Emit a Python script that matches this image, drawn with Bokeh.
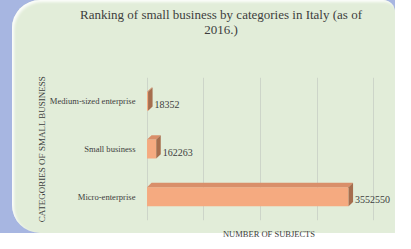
from bokeh.plotting import figure
from bokeh.models import FixedTicker, Div, Spacer, ColumnDataSource, Range1d
from bokeh.layouts import column, row
from bokeh.embed import file_html
from bokeh.resources import INLINE

# ---- data ----
categories = ["Micro-enterprise", "Small business", "Medium-sized enterprise"]
values = [3552550, 162263, 18352]
value_labels = ["3552550", "162263", "18352"]
grid_ticks = [0, 1000000, 2000000, 3000000, 4000000]
title_lines = ["Ranking of small business by categories in Italy (as of", "2016.)"]
x_title = "NUMBER OF SUBJECTS"
y_title = "CATEGORIES OF SMALL BUSINESS"

BLUE = "#a7b6e1"
GREEN = "#e2edd9"
TXT = "#3d3d3d"
FRONT = "#f5aa80"
TOP = "#d98f6a"
SIDE = "#a66e4e"
FONT = "'Liberation Serif', 'Times New Roman', 'DejaVu Serif', serif"

x0, x1 = -80000, 4380000
FW, FH = 253, 149  # approx frame size in px
dx = 4.5 * (x1 - x0) / FW
dy = 4.5 * 3.0 / FH
h = 0.40

idx = list(range(len(categories)))

front = ColumnDataSource(dict(
    left=[0 for _ in values], right=values,
    bottom=[i - h / 2 for i in idx], top=[i + h / 2 for i in idx]))
top_face = ColumnDataSource(dict(
    xs=[[0, v, v + dx, dx] for v in values],
    ys=[[i + h / 2, i + h / 2, i + h / 2 + dy, i + h / 2 + dy] for i in idx]))
side_face = ColumnDataSource(dict(
    xs=[[v, v + dx, v + dx, v] for v in values],
    ys=[[i - h / 2, i - h / 2 + dy, i + h / 2 + dy, i + h / 2] for i in idx]))
labels = ColumnDataSource(dict(x=[v + dx for v in values], y=idx, t=value_labels))

p = figure(width=383, height=193, output_backend="svg", toolbar_location=None,
           x_range=Range1d(x0, x1), y_range=Range1d(-0.5, len(categories) - 0.5),
           min_border_left=130, min_border_right=0, min_border_top=27, min_border_bottom=23,
           border_fill_color=None, background_fill_color=None, outline_line_color=None)
p.title.visible = False

p.quad(left="left", right="right", bottom="bottom", top="top", source=front,
       fill_color=FRONT, line_color=None)
p.patches("xs", "ys", source=top_face, fill_color=TOP, line_color=None)
p.patches("xs", "ys", source=side_face, fill_color=SIDE, line_color=None)
p.text(x="x", y="y", text="t", source=labels, x_offset=2, y_offset=3,
       text_align="left", text_baseline="middle", text_font_size="10px",
       text_color=TXT, text_font={"value": FONT})

# x axis: no tick labels, only the title
p.xaxis.ticker = FixedTicker(ticks=[])
p.xaxis.major_tick_line_color = None
p.xaxis.minor_tick_line_color = None
p.xaxis.axis_line_color = None
p.xaxis.major_label_standoff = 0
p.xaxis.axis_label = x_title
p.xaxis.axis_label_text_font = FONT
p.xaxis.axis_label_text_font_style = "normal"
p.xaxis.axis_label_text_font_size = "8.5px"
p.xaxis.axis_label_text_color = TXT
p.xaxis.axis_label_standoff = 8

# y axis
p.yaxis.ticker = FixedTicker(ticks=idx)
p.yaxis.major_label_overrides = {i: c for i, c in zip(idx, categories)}
p.yaxis.major_label_text_font = FONT
p.yaxis.major_label_text_font_size = "8.6px"
p.yaxis.major_label_text_color = TXT
p.yaxis.major_tick_line_color = None
p.yaxis.minor_tick_line_color = None
p.yaxis.axis_line_color = None
p.yaxis.major_label_standoff = 1
p.yaxis.axis_label = y_title
p.yaxis.axis_label_text_font = FONT
p.yaxis.axis_label_text_font_style = "normal"
p.yaxis.axis_label_text_font_size = "9px"
p.yaxis.axis_label_text_color = TXT
p.yaxis.axis_label_standoff = 0

p.xgrid.ticker = FixedTicker(ticks=grid_ticks)
p.xgrid.grid_line_color = "#cdd5c9"
p.ygrid.grid_line_color = None

title_div = Div(text="<br>".join(title_lines), width=383, height=40,
                styles={"font-family": FONT, "font-size": "13px", "line-height": "15px",
                        "color": TXT, "text-align": "center", "padding-top": "2px",
                        "padding-left": "25px", "box-sizing": "border-box",
                        "white-space": "nowrap"})

inner = column(title_div, p, width=383, height=233,
               styles={"background-color": GREEN, "border-radius": "28px 12px 0 28px",
                       "box-shadow": "inset 2px 2px 3px rgba(255,255,255,0.9)"})
outer = row(Spacer(width=12, height=233), inner, width=395, height=233,
            styles={"background-color": BLUE})

open("out.html", "w").write(file_html(outer, INLINE))
